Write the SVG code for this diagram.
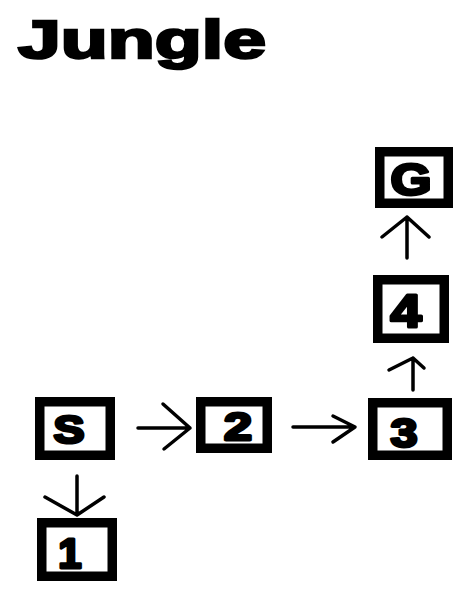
<svg xmlns="http://www.w3.org/2000/svg" width="457" height="589" viewBox="0 0 457 589">
<style>
.box{fill:#fff;stroke:#000;stroke-width:9.5}
.lbl{font-family:"Liberation Sans",Arial,sans-serif;font-weight:bold;fill:#000;stroke:#000;stroke-width:3;text-anchor:middle;stroke-linejoin:round}
.ln{fill:none;stroke:#000;stroke-width:3.5;stroke-linecap:round;stroke-linejoin:round}
</style>
<rect width="457" height="589" fill="#fff"/>
<text x="18" y="58" font-family="'Liberation Sans',Arial,sans-serif" font-weight="bold" font-size="53" fill="#000" stroke="#000" stroke-width="2.5" textLength="248" lengthAdjust="spacingAndGlyphs">Jungle</text>
<g id="connectors">
<path class="ln" d="M138 428H190M163 404L190 428L164 449"/>
<path class="ln" d="M293 427H355M333 416L355 427L333 442"/>
<path class="ln" d="M77 476V515M45 497L77 515L104 497"/>
<path class="ln" d="M413 390V358M389 370L413 358L424 368"/>
<path class="ln" d="M407 258V217M382 237L407 217L429 237"/>
</g>
<g id="node-S"><rect class="box" x="39.75" y="401.75" width="70.5" height="53.5"/><text class="lbl" x="69" y="443" font-size="39" textLength="31" lengthAdjust="spacingAndGlyphs">S</text></g>
<g id="node-2"><rect class="box" x="200.75" y="401.75" width="66.5" height="46.5"/><text class="lbl" x="238" y="440" font-size="39" textLength="28" lengthAdjust="spacingAndGlyphs">2</text></g>
<g id="node-3"><rect class="box" x="372.75" y="402.75" width="74.5" height="52.5"/><text class="lbl" x="404" y="447" font-size="41" textLength="27" lengthAdjust="spacingAndGlyphs">3</text></g>
<g id="node-1"><rect class="box" x="41.75" y="522.75" width="70.5" height="53.5"/><text class="lbl" x="70" y="568" font-size="42">1</text></g>
<g id="node-4"><rect class="box" x="377.75" y="279.75" width="66.5" height="58.5"/><text class="lbl" x="406" y="327" font-size="46" textLength="31" lengthAdjust="spacingAndGlyphs">4</text></g>
<g id="node-G"><rect class="box" x="379.75" y="151.75" width="68.5" height="51.5"/><text class="lbl" x="411" y="195" font-size="45" textLength="41" lengthAdjust="spacingAndGlyphs">G</text></g>
</svg>
